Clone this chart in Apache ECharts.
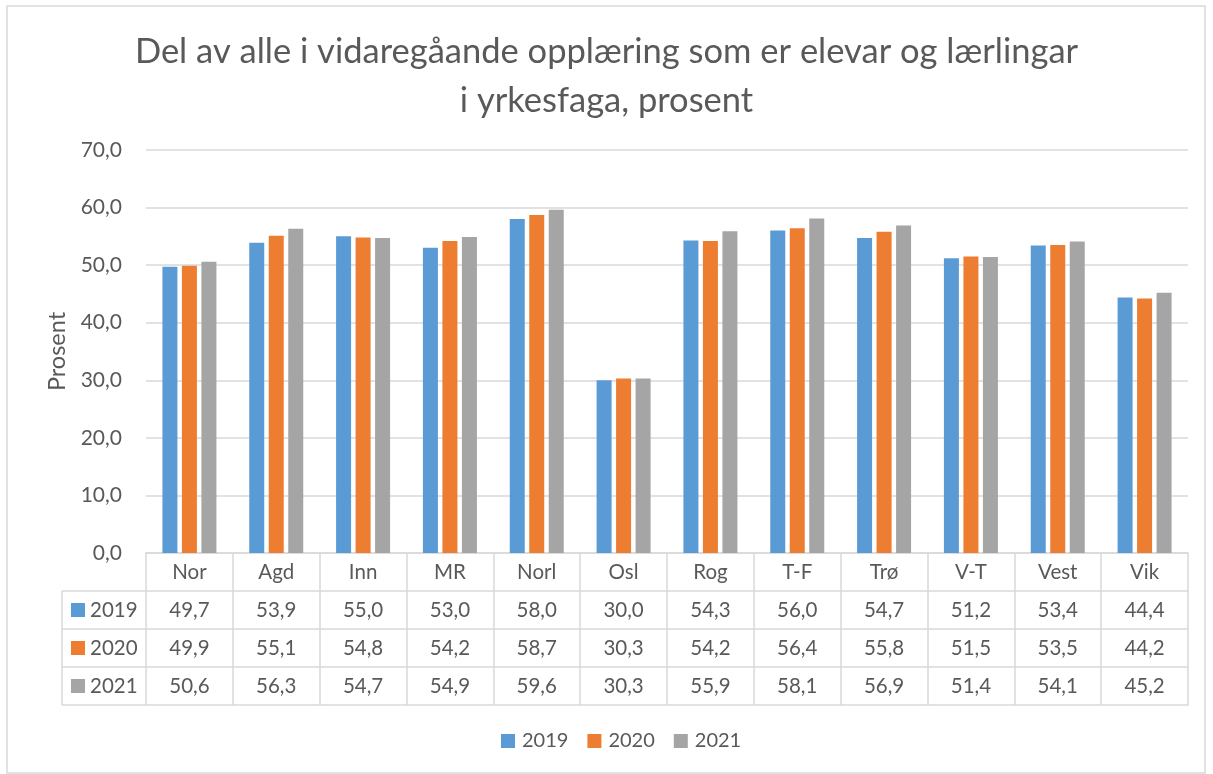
<!DOCTYPE html>
<html>
<head>
<meta charset="utf-8">
<script src="https://cdn.jsdelivr.net/npm/echarts@6/dist/echarts.min.js"></script>
<style>
  html, body { margin: 0; padding: 0; background: #fff; }
  #main { width: 1213px; height: 774px; }
</style>
</head>
<body>
<div id="main"></div>
<script type="text/javascript">
    // data
    var categories = ['Nor', 'Agd', 'Inn', 'MR', 'Norl', 'Osl', 'Rog', 'T-F', 'Trø', 'V-T', 'Vest', 'Vik'];
    var years = ['2019', '2020', '2021'];
    var values2019 = [49.7, 53.9, 55.0, 53.0, 58.0, 30.0, 54.3, 56.0, 54.7, 51.2, 53.4, 44.4];
    var values2020 = [49.9, 55.1, 54.8, 54.2, 58.7, 30.3, 54.2, 56.4, 55.8, 51.5, 53.5, 44.2];
    var values2021 = [50.6, 56.3, 54.7, 54.9, 59.6, 30.3, 55.9, 58.1, 56.9, 51.4, 54.1, 45.2];
    var yTicks = [0, 10, 20, 30, 40, 50, 60, 70];

    var seriesValues = [values2019, values2020, values2021];
    var colors = ['#5B9BD5', '#ED7D31', '#A5A5A5'];
    var textColor = '#595959';
    var lineColor = '#D9D9D9';
    var font = 'Lato, "Open Sans", sans-serif';

    function fmt(v) { return v.toFixed(1).replace('.', ','); }

    var myChart = echarts.init(document.getElementById('main'));

    var rowH = 38;
    var gridLeft = 146, gridRight = 1188, gridTop = 150, gridBottom = 553;
    var tableFont = 20.5;

    // category row + one axis per data row, ticks form the cell walls
    var xAxes = [{
        type: 'category',
        data: categories,
        position: 'bottom',
        offset: 0,
        axisLine: { show: true, lineStyle: { color: lineColor, width: 1.5 } },
        axisTick: { show: true, length: rowH, lineStyle: { color: lineColor, width: 1.5 } },
        axisLabel: { color: textColor, fontSize: tableFont, fontFamily: font, margin: 19, verticalAlign: 'middle' }
    }];
    seriesValues.forEach(function (vals, i) {
        xAxes.push({
            type: 'category',
            data: vals.map(fmt),
            position: 'bottom',
            offset: rowH * (i + 1),
            axisLine: { show: true, lineStyle: { color: lineColor, width: 1.5 } },
            axisTick: { show: true, length: rowH, lineStyle: { color: lineColor, width: 1.5 } },
            axisLabel: { color: textColor, fontSize: tableFont, fontFamily: font, margin: 19, verticalAlign: 'middle' }
        });
    });
    xAxes.push({
        type: 'category',
        data: categories,
        position: 'bottom',
        offset: rowH * 4,
        axisLine: { show: true, lineStyle: { color: lineColor, width: 1.5 } },
        axisTick: { show: false },
        axisLabel: { show: false }
    });

    // left column of the data table (series names with keys)
    var graphics = [{
        type: 'rect',
        shape: { x: 7, y: 6, width: 1198, height: 767 },
        style: { fill: 'none', stroke: lineColor, lineWidth: 1.5 },
        silent: true
    }];
    var tblLeft = 62;
    graphics.push({
        type: 'line',
        shape: { x1: tblLeft, y1: gridBottom + rowH, x2: tblLeft, y2: gridBottom + rowH * 4 },
        style: { stroke: lineColor, lineWidth: 1.5 }
    });
    for (var r = 1; r <= 4; r++) {
        graphics.push({
            type: 'line',
            shape: { x1: tblLeft, y1: gridBottom + rowH * r, x2: gridLeft, y2: gridBottom + rowH * r },
            style: { stroke: lineColor, lineWidth: 1.5 }
        });
    }
    years.forEach(function (y, i) {
        var cy = gridBottom + rowH * (i + 1) + rowH / 2;
        graphics.push({
            type: 'rect',
            shape: { x: 71, y: cy - 7, width: 14, height: 14 },
            style: { fill: colors[i] }
        });
        graphics.push({
            type: 'text',
            x: 90, y: cy,
            style: { text: y, fill: textColor, fontSize: tableFont, fontFamily: font, verticalAlign: 'middle' }
        });
    });

    var option = {
        color: colors,
        title: {
            text: 'Del av alle i vidaregåande opplæring som er elevar og lærlingar\ni yrkesfaga, prosent',
            left: 'center',
            top: 22,
            textStyle: { color: textColor, fontSize: 34.5, fontWeight: 'normal', fontFamily: font, lineHeight: 49 }
        },
        legend: {
            data: years,
            bottom: 18,
            left: 496,
            icon: 'rect',
            itemWidth: 14,
            itemHeight: 14,
            itemGap: 19,
            textStyle: { color: textColor, fontSize: 20, fontFamily: font, padding: [0, 0, 0, 2] }
        },
        grid: {
            left: gridLeft,
            right: 1213 - gridRight,
            top: gridTop,
            bottom: 774 - gridBottom,
            containLabel: false
        },
        xAxis: xAxes,
        yAxis: {
            type: 'value',
            min: yTicks[0],
            max: yTicks[yTicks.length - 1],
            interval: 10,
            name: 'Prosent',
            nameLocation: 'middle',
            nameRotate: 90,
            nameGap: 76,
            nameTextStyle: { color: textColor, fontSize: 23.5, fontFamily: font },
            axisLine: { show: false },
            axisTick: { show: false },
            axisLabel: { color: textColor, fontSize: 21, fontFamily: font, margin: 24, formatter: fmt },
            splitLine: { lineStyle: { color: lineColor, width: 1.5 } }
        },
        graphic: graphics,
        series: years.map(function (y, i) {
            return {
                name: y,
                type: 'bar',
                data: seriesValues[i],
                barWidth: 15,
                barGap: '30%',
                itemStyle: { color: colors[i] }
            };
        })
    };
    myChart.setOption(option);
</script>
</body>
</html>
